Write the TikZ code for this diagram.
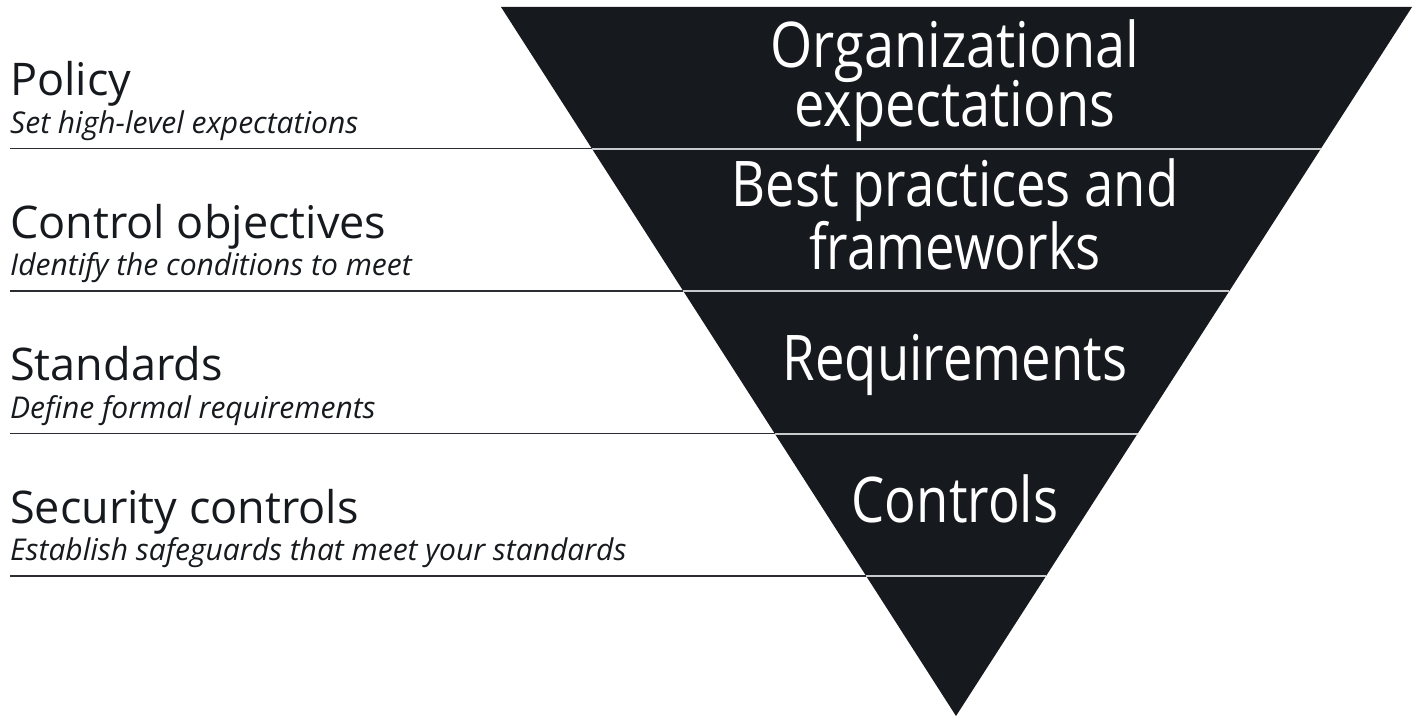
\documentclass[tikz,border=0pt]{standalone}
\usepackage{fontspec}
\setmainfont{Open Sans}
\definecolor{tri}{HTML}{16191D}
\definecolor{rule}{HTML}{2A2D31}
\definecolor{sep}{HTML}{C8CACC}
\newcommand{\condA}[1]{\scalebox{0.86}[1]{#1}}
\newcommand{\condB}[1]{\scalebox{0.835}[1]{#1}}
\begin{document}
\begin{tikzpicture}[x=1pt,y=-1pt,
  title/.style={anchor=base west,inner sep=0pt,font=\fontsize{45}{50}\selectfont,text=tri},
  sub/.style={anchor=base west,inner sep=0pt,font=\fontsize{30}{34}\selectfont\itshape,text=tri},
  tritext/.style={anchor=base,inner sep=0pt,text=white,font=\fontsize{63}{63}\selectfont},
  leftrule/.style={draw=rule,line width=1.5pt},
  band/.style={draw=sep,line width=2pt}]
\useasboundingbox (0,0) rectangle (1421,717);
\fill[tri] (501,7) -- (1412,7) -- (956,716) -- cycle;
% band boundaries (y = 148.5, 291, 433.5, 576)
\foreach \y/\n in {148.5/a,291/b,433.5/c,576/d}{
  \pgfmathsetmacro{\xl}{501+(\y-7)/709*455}
  \pgfmathsetmacro{\xr}{1412-(\y-7)/709*456}
  \coordinate (L\n) at (10,\y);
  \coordinate (E\n) at (\xl,\y);
  \coordinate (R\n) at (\xr,\y);
}
\foreach \n in {a,b,c,d}{
  \draw[leftrule] (L\n) -- (E\n);
  \draw[band] (E\n) -- (R\n);
}
\node[title] (t1) at (10,95.5) {Policy};
\node[sub] (s1) at (10,133) {Set high-level expectations};
\node[title] (t2) at (10,238) {Control objectives};
\node[sub] (s2) at (10,275.5) {Identify the conditions to meet};
\node[title] (t3) at (10,380.5) {Standards};
\node[sub] (s3) at (10,418) {Define formal requirements};
\node[title] (t4) at (10,523) {Security controls};
\node[sub] (s4) at (10,560.5) {Establish safeguards that meet your standards};
\node[tritext] (m1a) at (955,67) {\condA{Organizational}};
\node[tritext] (m1b) at (955,126) {\condA{expectations}};
\node[tritext] (m2a) at (955,206) {\condB{Best practices and}};
\node[tritext] (m2b) at (955,269) {\condB{frameworks}};
\node[tritext] (m3) at (955,380) {\condB{Requirements}};
\node[tritext] (m4) at (955,522) {\condB{Controls}};
\end{tikzpicture}
\end{document}
